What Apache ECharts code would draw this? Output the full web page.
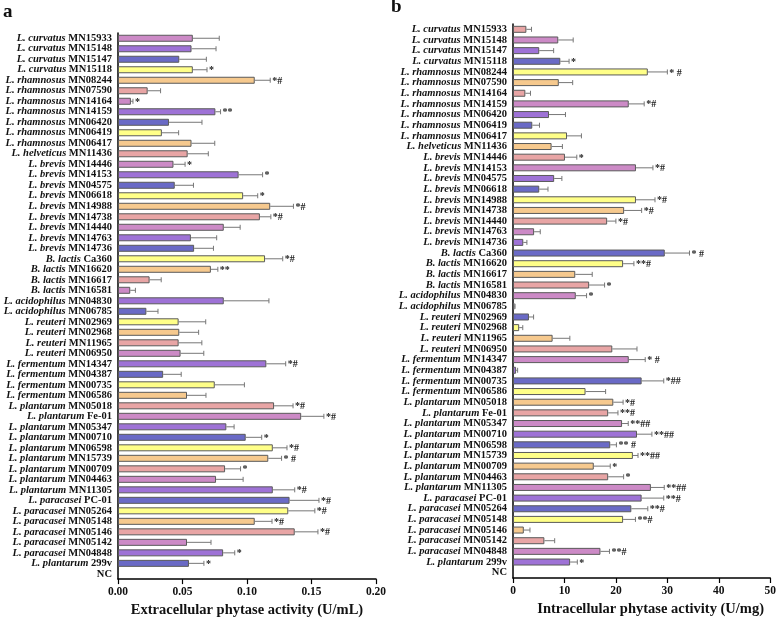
<!DOCTYPE html>
<html>
<head>
<meta charset="utf-8">
<script src="https://cdn.jsdelivr.net/npm/echarts@6/dist/echarts.min.js"></script>
<style>
  html, body { margin: 0; padding: 0; background: #fff; }
  #main { width: 779px; height: 623px; }
</style>
</head>
<body>
<div id="main"></div>
<script>
// strains, top to bottom
const strains = [
  'L. curvatus MN15933', 'L. curvatus MN15148', 'L. curvatus MN15147', 'L. curvatus MN15118',
  'L. rhamnosus MN08244', 'L. rhamnosus MN07590', 'L. rhamnosus MN14164', 'L. rhamnosus MN14159',
  'L. rhamnosus MN06420', 'L. rhamnosus MN06419', 'L. rhamnosus MN06417', 'L. helveticus MN11436',
  'L. brevis MN14446', 'L. brevis MN14153', 'L. brevis MN04575', 'L. brevis MN06618',
  'L. brevis MN14988', 'L. brevis MN14738', 'L. brevis MN14440', 'L. brevis MN14763',
  'L. brevis MN14736', 'B. lactis Ca360', 'B. lactis  MN16620', 'B. lactis  MN16617',
  'B. lactis  MN16581', 'L. acidophilus MN04830', 'L. acidophilus MN06785', 'L. reuteri MN02969',
  'L. reuteri MN02968', 'L. reuteri MN11965', 'L. reuteri MN06950', 'L. fermentum MN14347',
  'L. fermentum MN04387', 'L. fermentum MN00735', 'L. fermentum MN06586', 'L. plantarum MN05018',
  'L. plantarum Fe-01', 'L. plantarum MN05347', 'L. plantarum MN00710', 'L. plantarum MN06598',
  'L. plantarum MN15739', 'L. plantarum MN00709', 'L. plantarum MN04463', 'L. plantarum MN11305',
  'L. paracasei PC-01', 'L. paracasei MN05264', 'L. paracasei MN05148', 'L. paracasei MN05146',
  'L. paracasei MN05142', 'L. paracasei MN04848', 'L. plantarum 299v', 'NC'
];

// panel a: extracellular (U/mL)
const extMean = [
  0.058, 0.057, 0.0475, 0.058, 0.106, 0.023, 0.010, 0.0755,
  0.0395, 0.034, 0.057, 0.054, 0.043, 0.0935, 0.044, 0.097,
  0.118, 0.110, 0.082, 0.0565, 0.059, 0.114, 0.072, 0.0245,
  0.0095, 0.082, 0.022, 0.047, 0.0475, 0.047, 0.0485, 0.115,
  0.035, 0.075, 0.0535, 0.121, 0.142, 0.084, 0.099, 0.120,
  0.1165, 0.083, 0.076, 0.120, 0.133, 0.132, 0.106, 0.137,
  0.0535, 0.0815, 0.055, 0
];
const extErr = [
  0.0205, 0.019, 0.021, 0.011, 0.012, 0.010, 0.0016, 0.004,
  0.0256, 0.013, 0.018, 0.016, 0.009, 0.0186, 0.0145, 0.0113,
  0.018, 0.0085, 0.0127, 0.020, 0.015, 0.0137, 0.0054, 0.009,
  0.004, 0.035, 0.009, 0.021, 0.015, 0.018, 0.018, 0.015,
  0.014, 0.023, 0.0147, 0.0147, 0.0176, 0.006, 0.0124, 0.011,
  0.0103, 0.012, 0.021, 0.017, 0.0228, 0.0206, 0.0134, 0.018,
  0.0186, 0.009, 0.0116, 0
];
const extSig = [
  '', '', '', '*', '*#', '', '*', '**',
  '', '', '', '', '*', '*', '', '*',
  '*#', '*#', '', '', '', '*#', '**', '',
  '', '', '', '', '', '', '', '*#',
  '', '', '', '*#', '*#', '', '*', '*#',
  '* #', '*', '', '*#', '*#', '*#', '*#', '*#',
  '', '*', '*', ''
];

// panel b: intracellular (U/mg)
const intMean = [
  2.6, 8.8, 5.1, 9.2, 26.2, 8.9, 2.4, 22.5,
  7.0, 3.75, 10.5, 7.5, 10.1, 23.9, 8.0, 5.1,
  23.9, 21.6, 18.3, 4.1, 2.0, 29.5, 21.4, 12.1,
  14.8, 12.2, 0.3, 3.1, 1.2, 7.7, 19.3, 22.5,
  0.6, 25.0, 14.1, 19.5, 18.5, 21.2, 24.1, 18.9,
  23.3, 15.7, 18.5, 26.8, 25.0, 23.0, 21.4, 2.1,
  6.1, 17.0, 11.1, 0
];
const intErr = [
  1.0, 2.9, 2.8, 1.7, 3.8, 2.7, 1.0, 3.0,
  3.2, 1.4, 2.8, 2.1, 2.3, 3.3, 1.5, 1.7,
  3.7, 3.4, 1.7, 1.2, 0.7, 4.8, 2.1, 3.3,
  3.0, 2.1, 0.1, 0.9, 0.7, 3.35, 4.8, 3.2,
  0.3, 4.3, 3.9, 1.9, 1.9, 1.2, 2.9, 1.2,
  1.0, 3.2, 3.0, 2.6, 4.3, 3.2, 2.4, 1.2,
  2.0, 1.75, 1.4, 0
];
const intSig = [
  '', '', '', '*', '* #', '', '', '*#',
  '', '', '', '', '*', '*#', '', '',
  '*#', '*#', '*#', '', '', '* #', '**#', '',
  '*', '*', '', '', '', '', '', '* #',
  '', '*##', '', '*#', '**#', '**##', '**##', '** #',
  '**##', '*', '*', '**##', '**#', '**#', '**#', '',
  '', '**#', '*', ''
];

const palette = ['#CC8AC6', '#9E72D6', '#6A6AC6', '#FFFF88', '#F6C98E', '#E8A5A5'];
const serif = '"Liberation Serif", "DejaVu Serif", serif';

const chart = echarts.init(document.getElementById('main'));

function barData(values, shift) {
  return values.map((v, i) => ({
    value: v,
    itemStyle: {
      color: palette[(i + shift) % 6],
      borderColor: '#5a5a5a',
      borderWidth: v > 0 ? 1 : 0
    }
  }));
}

function errSeries(means, errs, sigs, axisIdx) {
  return {
    type: 'custom',
    xAxisIndex: axisIdx,
    yAxisIndex: axisIdx,
    silent: true,
    z: 5,
    data: means.map((m, i) => [m, i, errs[i]]),
    renderItem(params, api) {
      const m = api.value(0), idx = api.value(1), e = api.value(2);
      const sig = sigs[params.dataIndex];
      if (!(m > 0)) return;
      const p0 = api.coord([m, idx]);
      const p1 = api.coord([m + e, idx]);
      const children = [
        {type: 'line', shape: {x1: p0[0], y1: p0[1], x2: p1[0], y2: p1[1]},
          style: {stroke: '#777', lineWidth: 1}},
        {type: 'line', shape: {x1: p1[0], y1: p1[1] - 2.5, x2: p1[0], y2: p1[1] + 2.5},
          style: {stroke: '#777', lineWidth: 1}}
      ];
      if (sig) {
        children.push({
          type: 'text',
          style: {
            x: p1[0] + 2, y: p1[1] + 1,
            text: sig,
            fill: '#222',
            font: 'bold 10px ' + serif,
            verticalAlign: 'middle'
          }
        });
      }
      return {type: 'group', children};
    }
  };
}

const yLabel = {
  interval: 0,
  fontSize: 10.5,
  fontFamily: serif,
  color: '#111',
  margin: 6,
  formatter(v) {
    const p = v.split(' ');
    if (p.length < 3) return '{n|' + v + '}';
    return '{i|' + p[0] + ' ' + p[1] + '} {n|' + p.slice(2).join(' ').trim() + '}';
  },
  rich: {
    i: {fontStyle: 'italic', fontWeight: 'bold', fontSize: 10.5, fontFamily: serif, color: '#111'},
    n: {fontWeight: 'bold', fontSize: 10.5, fontFamily: serif, color: '#111'}
  }
};

function yAxis(gridIdx) {
  return {
    type: 'category',
    gridIndex: gridIdx,
    data: strains,
    inverse: true,
    axisLine: {lineStyle: {color: '#000', width: 1.5}},
    axisTick: {alignWithLabel: true, interval: 0, length: 4, lineStyle: {color: '#000', width: 1.2}},
    axisLabel: yLabel,
    splitLine: {show: false}
  };
}

function xAxis(gridIdx, max, interval, name, gap, fmt, namePad) {
  return {
    type: 'value',
    gridIndex: gridIdx,
    min: 0,
    max: max,
    interval: interval,
    name: name,
    nameLocation: 'middle',
    nameGap: gap,
    nameTextStyle: {fontFamily: serif, fontWeight: 'bold', fontSize: 14.5, color: '#111', padding: namePad},
    axisLine: {show: true, lineStyle: {color: '#000', width: 1.5}},
    axisTick: {show: true, length: 5, lineStyle: {color: '#000', width: 1.2}},
    axisLabel: {fontFamily: serif, fontWeight: 'bold', fontSize: 11.5, color: '#111', margin: 7, formatter: fmt},
    splitLine: {show: false}
  };
}

chart.setOption({
  animation: false,
  backgroundColor: '#fff',
  grid: [
    {left: 118, right: 403, top: 33, bottom: 41},
    {left: 513, right: 7, top: 24, bottom: 45}
  ],
  xAxis: [
    xAxis(0, 0.2, 0.05, 'Extracellular phytase activity (U/mL)', 21, v => v.toFixed(2), 0),
    xAxis(1, 50, 10, 'Intracellular phytase activity (U/mg)', 10, v => String(v), [0, 0, 0, 18])
  ],
  yAxis: [yAxis(0), yAxis(1)],
  series: [
    {type: 'bar', xAxisIndex: 0, yAxisIndex: 0, barWidth: 7, data: barData(extMean, 0)},
    errSeries(extMean, extErr, extSig, 0),
    {type: 'bar', xAxisIndex: 1, yAxisIndex: 1, barWidth: 7, data: barData(intMean, 5)},
    errSeries(intMean, intErr, intSig, 1)
  ],
  graphic: [
    {type: 'text', left: 3, top: 3, style: {text: 'a', font: 'bold 19px ' + serif, fill: '#111'}},
    {type: 'text', left: 391, top: -2, style: {text: 'b', font: 'bold 19px ' + serif, fill: '#111'}}
  ]
});
</script>
</body>
</html>
